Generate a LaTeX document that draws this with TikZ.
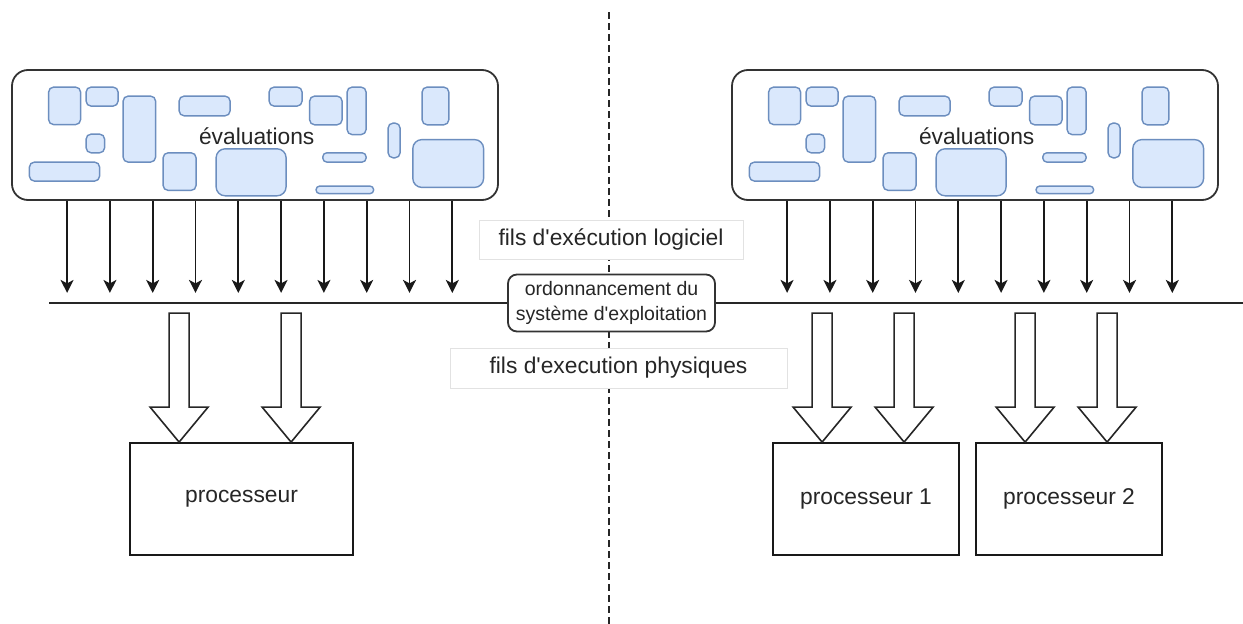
\documentclass[tikz,border=0pt]{standalone}
\usepackage{fontspec}
\setmainfont{Liberation Sans}[Ligatures=TeXOff]
\usetikzlibrary{arrows.meta}
\definecolor{bfill}{HTML}{DAE8FC}
\definecolor{bline}{HTML}{6C8EBF}
\definecolor{dark}{HTML}{333333}
\definecolor{lgborder}{HTML}{E2E2E2}
\newcommand{\mainfs}{\fontsize{22.8}{27}\selectfont}
\newcommand{\smallfs}{\fontsize{19.5}{25}\selectfont}
\newcommand{\evalshapes}{%
  \draw[bshape] (37.5,18) rectangle (69.5,55.5);
  \draw[bshape] (75,18) rectangle (107,37);
  \draw[bshape] (112,27) rectangle (144.5,93);
  \draw[bshape] (168,27) rectangle (219,46.7);
  \draw[bshape] (258,18) rectangle (291,37);
  \draw[bshape] (298.5,27) rectangle (331,55.7);
  \draw[bshape] (336,18) rectangle (355,65.5);
  \draw[bshape] (411,18) rectangle (437.7,55.7);
  \draw[bshape] (75,65) rectangle (93.5,83.7);
  \draw[bshape] (18.3,93) rectangle (88.5,112);
  \draw[bshape] (152,83.7) rectangle (185,121.3);
  \draw[bshape,rounded corners=9pt] (205,79.7) rectangle (275,126.7);
  \draw[bshape,rounded corners=4pt] (311.7,83.7) rectangle (355,93);
  \draw[bshape,rounded corners=3.5pt] (305,117) rectangle (362.5,124.5);
  \draw[bshape] (377,54) rectangle (389,88.7);
  \draw[bshape,rounded corners=9pt] (401.7,70.5) rectangle (472.5,118.3);
}
\tikzset{
  evalbox/.style={draw=dark, line width=1.8pt, rounded corners=16pt, fill=white,
    minimum width=486pt, minimum height=130pt, inner sep=0pt, font=\mainfs, text=black!85},
  bshape/.style={draw=bline, fill=bfill, line width=1.4pt, rounded corners=5pt},
  thinarrow/.style={draw=black!90, line width=1.8pt, -{Stealth[length=13pt,width=13pt,inset=3.5pt]}},
  hline/.style={draw=black!85, line width=1.8pt},
  vdash/.style={draw=black!85, line width=1.5pt, dash pattern=on 7pt off 4pt},
  sched/.style={draw=dark, line width=1.8pt, fill=white, rounded corners=9pt,
    minimum width=207pt, minimum height=57pt, inner sep=0pt, align=center, font=\smallfs, text=black!85},
  lbl/.style={draw=lgborder, line width=1pt, fill=white, inner sep=0pt, font=\mainfs, text=black!85},
  proc/.style={draw=black!90, line width=1.8pt, fill=white, inner sep=0pt,
    minimum height=112pt, font=\mainfs, text=black!85},
  hollow/.style={draw=black!85, line width=1.6pt, fill=white},
  harrow/.pic={\draw[hollow] (-10,-129) -- (-10,-35) -- (-29,-35) -- (0,0) -- (29,-35) -- (10,-35) -- (10,-129) -- cycle;}
}
\begin{document}
\begin{tikzpicture}[x=1pt,y=-1pt]
\useasboundingbox (0,0) rectangle (1243,624);
% vertical separator
\coordinate (dtop) at (609,12);
\coordinate (dbot) at (609,624);
\draw[vdash] (dtop) -- (dbot);
% evaluation boxes
\node[evalbox] (evalL) at (255,135) {};
\node[evalbox] (evalR) at (975,135) {};
\begin{scope}[shift={(evalL.north west)}]
  \evalshapes
\end{scope}
\begin{scope}[shift={(evalR.north west)}]
  \evalshapes
\end{scope}
\node[font=\mainfs, text=black!85] (evtxtL) at (256.7,136) {évaluations};
\node[font=\mainfs, text=black!85] (evtxtR) at (976.7,136) {évaluations};
% software threads
\foreach \i in {0,...,9} {
  \draw[thinarrow] ([xshift={56+42.8*\i}]evalL.south west) -- ++(0,92);
  \draw[thinarrow] ([xshift={56+42.8*\i}]evalR.south west) -- ++(0,92);
}
% labels
\node[lbl, minimum width=264pt, minimum height=39pt] (logiciel) at (611,239.5) {fils d'exécution logiciel};
\node[lbl, minimum width=337pt, minimum height=40pt] (physiques) at (618.5,368) {fils d'execution physiques};
% scheduler line
\node[sched] (sched) at (611.5,303) {ordonnancement du\\système d'exploitation};
\coordinate (lineL) at (49,303);
\coordinate (lineR) at (1243,303);
\draw[hline] (lineL) -- (sched.west);
\draw[hline] (sched.east) -- (lineR);
% processors
\node[proc, minimum width=223pt] (procL) at (241.5,499) {processeur};
\node[proc, minimum width=186pt] (proc1) at (866,499) {processeur 1};
\node[proc, minimum width=186pt] (proc2) at (1069,499) {processeur 2};
% physical threads
\pic at ([xshift=50pt]procL.north west) {harrow};
\pic at ([xshift=162pt]procL.north west) {harrow};
\pic at ([xshift=50pt]proc1.north west) {harrow};
\pic at ([xshift=132pt]proc1.north west) {harrow};
\pic at ([xshift=50pt]proc2.north west) {harrow};
\pic at ([xshift=132pt]proc2.north west) {harrow};
\end{tikzpicture}
\end{document}
